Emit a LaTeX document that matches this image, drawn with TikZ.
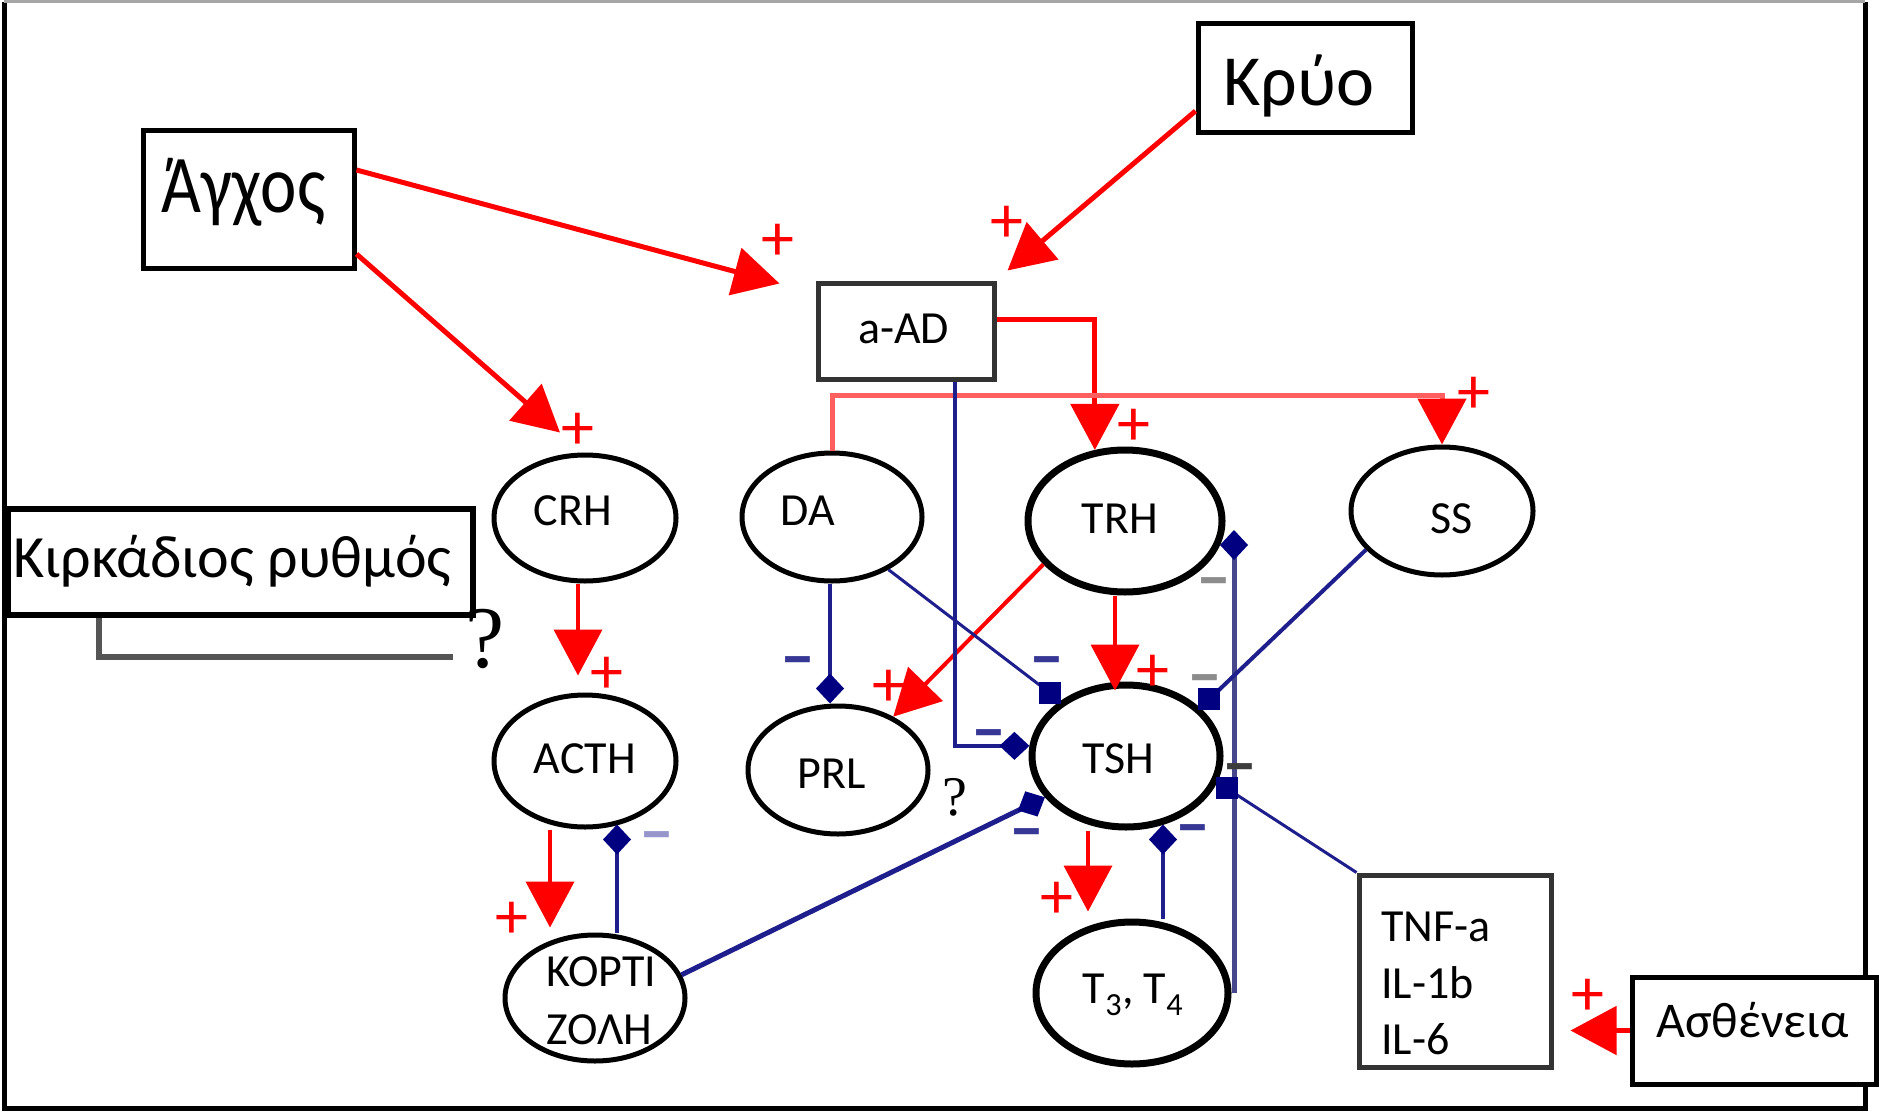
\documentclass[tikz,border=0pt]{standalone}
\usepackage{fontspec}
\setmainfont{Carlito}
\newfontfamily\qfont{Liberation Serif}
\usetikzlibrary{arrows.meta,shapes.geometric,calc}
\definecolor{navyline}{RGB}{30,30,140}
\definecolor{navymark}{RGB}{0,0,128}
\definecolor{pinkred}{RGB}{255,95,95}
\definecolor{boxgray}{RGB}{51,51,51}
\definecolor{minusblue}{RGB}{55,55,150}
\definecolor{minuslight}{RGB}{150,150,205}
\definecolor{minusgray}{RGB}{140,140,140}
\definecolor{minusdark}{RGB}{60,60,60}
\definecolor{bracketgray}{RGB}{85,85,85}
\definecolor{vline}{RGB}{70,70,140}
\begin{document}
\begin{tikzpicture}[x=1pt,y=-1pt,
  ell/.style={ellipse, draw=black, line width=5pt, fill=white, inner sep=0pt},
  ellthick/.style={ell, line width=7pt},
  bigbox/.style={rectangle, draw=black, line width=5pt, fill=white, inner sep=0pt},
  graybox/.style={bigbox, draw=boxgray},
  lbl/.style={font=\fontsize{46}{56}\selectfont, inner sep=0pt, anchor=base},
  redarrow/.style={draw=red, line width=5pt, -{Triangle[length=46pt,width=48pt]}},
  pinkarrow/.style={draw=pinkred, line width=5pt, -{Triangle[length=46pt,width=48pt,color=red]}},
  blueline/.style={draw=navyline, line width=4pt},
  bluethin/.style={draw=navyline, line width=3pt},
  dia/.style={-{Diamond[length=30pt,width=28pt,color=navymark]}},
  sqmark/.style={rectangle, fill=navymark, minimum size=22pt, inner sep=0pt},
  plus/.style={font=\fontsize{66}{66}\selectfont, text=red, inner sep=0pt},
  minus/.style={font=\fontsize{70}{70}\selectfont\bfseries, text=minusblue, inner sep=0pt, yshift=-8pt},
  qmark/.style={font=\qfont\fontsize{88}{88}\selectfont, inner sep=0pt},
]
\useasboundingbox (0,0) rectangle (1879,1116);
% frame
\draw[line width=5pt] (4,2) -- (4,1108) -- (1865,1108) -- (1865,2);
\draw[gray!70, line width=3pt] (4,2) -- (1865,2);

% boxes
\node[bigbox, minimum width=211pt, minimum height=138pt] (Agxos) at (248.5,199) {};
\node[bigbox, minimum width=214pt, minimum height=108pt] (Kryo) at (1305,78) {};
\node[bigbox, line width=6pt, minimum width=465pt, minimum height=106pt] (Kirk) at (240.5,562) {};
\node[graybox, minimum width=176pt, minimum height=96pt] (aAD) at (906,331) {};
\node[graybox, minimum width=192pt, minimum height=192pt] (TNF) at (1455,971) {};
\node[bigbox, minimum width=244pt, minimum height=107pt] (Asth) at (1754,1030.5) {};

% ellipses
\node[ell, minimum width=182pt, minimum height=126pt] (CRH) at (585,518) {};
\node[ell, minimum width=180pt, minimum height=128pt] (DA) at (832,517) {};
\node[ellthick, minimum width=194pt, minimum height=142pt] (TRH) at (1125,521) {};
\node[ell, minimum width=182pt, minimum height=128pt] (SS) at (1442,511) {};
\node[ell, minimum width=182pt, minimum height=132pt] (ACTH) at (585,761) {};
\node[ell, minimum width=180pt, minimum height=128pt] (PRL) at (838,770) {};
\node[ellthick, minimum width=188pt, minimum height=142pt] (TSH) at (1126,756) {};
\node[ell, minimum width=180pt, minimum height=126pt] (KORT) at (595,998) {};
\node[ellthick, minimum width=192pt, minimum height=142pt] (T34) at (1132,993) {};

% texts
\node[inner sep=0pt, anchor=base west, font=\fontsize{82}{82}\selectfont] (tAgxos) at (161,212) {\scalebox{0.84}[1]{Άγχος}};
\node[inner sep=0pt, anchor=base west, font=\fontsize{72}{72}\selectfont] (tKryo) at (1223,105) {Κρύο};
\node[inner sep=0pt, anchor=base west, font=\fontsize{60}{60}\selectfont] (tKirk) at (13,577) {Κιρκάδιος ρυθμός};
\node[inner sep=0pt, anchor=base west, font=\fontsize{46}{46}\selectfont] (taAD) at (858,343) {a-AD};
\node[inner sep=0pt, anchor=base west, font=\fontsize{50}{50}\selectfont] (tAsth) at (1656,1037) {Ασθένεια};
\node[lbl] (tCRH) at (573,525) {CRH};
\node[lbl] (tDA) at (808,525) {DA};
\node[lbl] (tTRH) at (1120,533) {TRH};
\node[lbl] (tSS) at (1452,533) {SS};
\node[lbl] (tACTH) at (585,773) {ACTH};
\node[lbl] (tPRL) at (832,788) {PRL};
\node[lbl] (tTSH) at (1118,773) {TSH};
\node[lbl] (tT34) at (1133,1003) {T\textsubscript{3}, T\textsubscript{4}};
\node[inner sep=0pt, anchor=west, align=left, font=\fontsize{46}{58}\selectfont] (tKORT) at (546,1001) {ΚΟΡΤΙ\\ΖΟΛΗ};
\node[inner sep=0pt, anchor=west, align=left, font=\fontsize{46}{56.5}\selectfont] (tTNF) at (1381,983.5) {TNF-a\\IL-1b\\IL-6};

% red activating connectors
\draw[redarrow] (Agxos.east |- 0,170) -- ($(aAD.north west)+(-36,3)$);
\draw[redarrow] (Agxos.east |- 0,254) -- ($(CRH.north)+(-25,-20)$);
\draw[redarrow] (Kryo.west |- 0,111) -- ($(aAD.north east)+(11,-10)$);
\draw[redarrow] (aAD.east |- 0,319) -| (TRH.113);
\draw[pinkarrow] (DA.north) -- (DA.north |- 0,395) -| (SS.north);
\draw[redarrow, line width=4pt, shorten >=17pt] (CRH.south -| 578,0) -- (ACTH.north -| 578,0);
\draw[redarrow, line width=4pt, shorten >=5pt] (ACTH.south -| 550,0) -- (KORT.north -| 550,0);
\draw[redarrow, line width=4pt] (TRH.208) -- (PRL.44);
\draw[redarrow, line width=4pt, shorten >=-9pt] (TRH.south -| 1115,0) -- (TSH.north -| 1115,0);
\draw[redarrow, line width=4pt, shorten >=7pt] (TSH.south -| 1088,0) -- (T34.north -| 1088,0);
\draw[redarrow, shorten >=17pt] (Asth.west) -- (TNF.east |- Asth.west);

% blue inhibiting connectors
\draw[blueline, dia, shorten >=-5pt] (KORT.north -| 617,0) -- (ACTH.south -| 617,0);
\draw[blueline, dia] (DA.south -| 830,0) -- (PRL.north -| 830,0);
\draw[blueline, dia, shorten >=-6pt] (T34.north -| 1163,0) -- (TSH.south -| 1163,0);
\draw[draw=vline, line width=5pt, dia, shorten >=9pt] (T34.east -| 1234,0) -- (TRH.east -| 1234,0);
\draw[blueline, dia] (aAD.south -| 955,0) |- (TSH.174);
\draw[blueline, line width=5pt, dia] (KORT.15) -- (TSH.207);
\draw[bluethin] (DA.317) -- ($(TSH.140)!13pt!(DA.317)$) node[sqmark] (mDA) {};
\draw[blueline] (SS.207) -- ($(TSH.33)!12pt!(SS.207)$) node[sqmark] (mSS) {};
\draw[bluethin] (TNF.north west) -- ($(TSH.-16)!11pt!(TNF.north west)$) node[sqmark] (mTNF) {};

% circadian bracket
\coordinate (kend) at (453,657);
\draw[draw=bracketgray, line width=6pt] (Kirk.south -| 99,0) |- (kend);
\node[qmark] (qK) at (485,639) {?};
\node[qmark, font=\qfont\fontsize{56}{56}\selectfont] (qP) at (955,797) {?};

% plus signs
\node[plus] (p1) at (778,242) {+};
\node[plus] (p2) at (578,431) {+};
\node[plus] (p3) at (1007,224) {+};
\node[plus] (p4) at (1134,427) {+};
\node[plus] (p5) at (1474,395) {+};
\node[plus] (p6) at (607,675) {+};
\node[plus] (p7) at (512,920) {+};
\node[plus] (p8) at (889,688) {+};
\node[plus] (p9) at (1153,673) {+};
\node[plus] (p10) at (1057,900) {+};
\node[plus] (p11) at (1588,997) {+};

% minus signs
\node[minus] (m1) at (798,660) {–};
\node[minus, text=minuslight] (m2) at (657,835) {–};
\node[minus] (m3) at (989,733) {–};
\node[minus] (m4) at (1047,660) {–};
\node[minus, text=minusgray] (m5) at (1205,678) {–};
\node[minus, text=minusgray] (m6) at (1214,581) {–};
\node[minus, text=minusdark] (m7) at (1240,767) {–};
\node[minus] (m8) at (1193,828) {–};
\node[minus] (m9) at (1027,832) {–};
\end{tikzpicture}
\end{document}
